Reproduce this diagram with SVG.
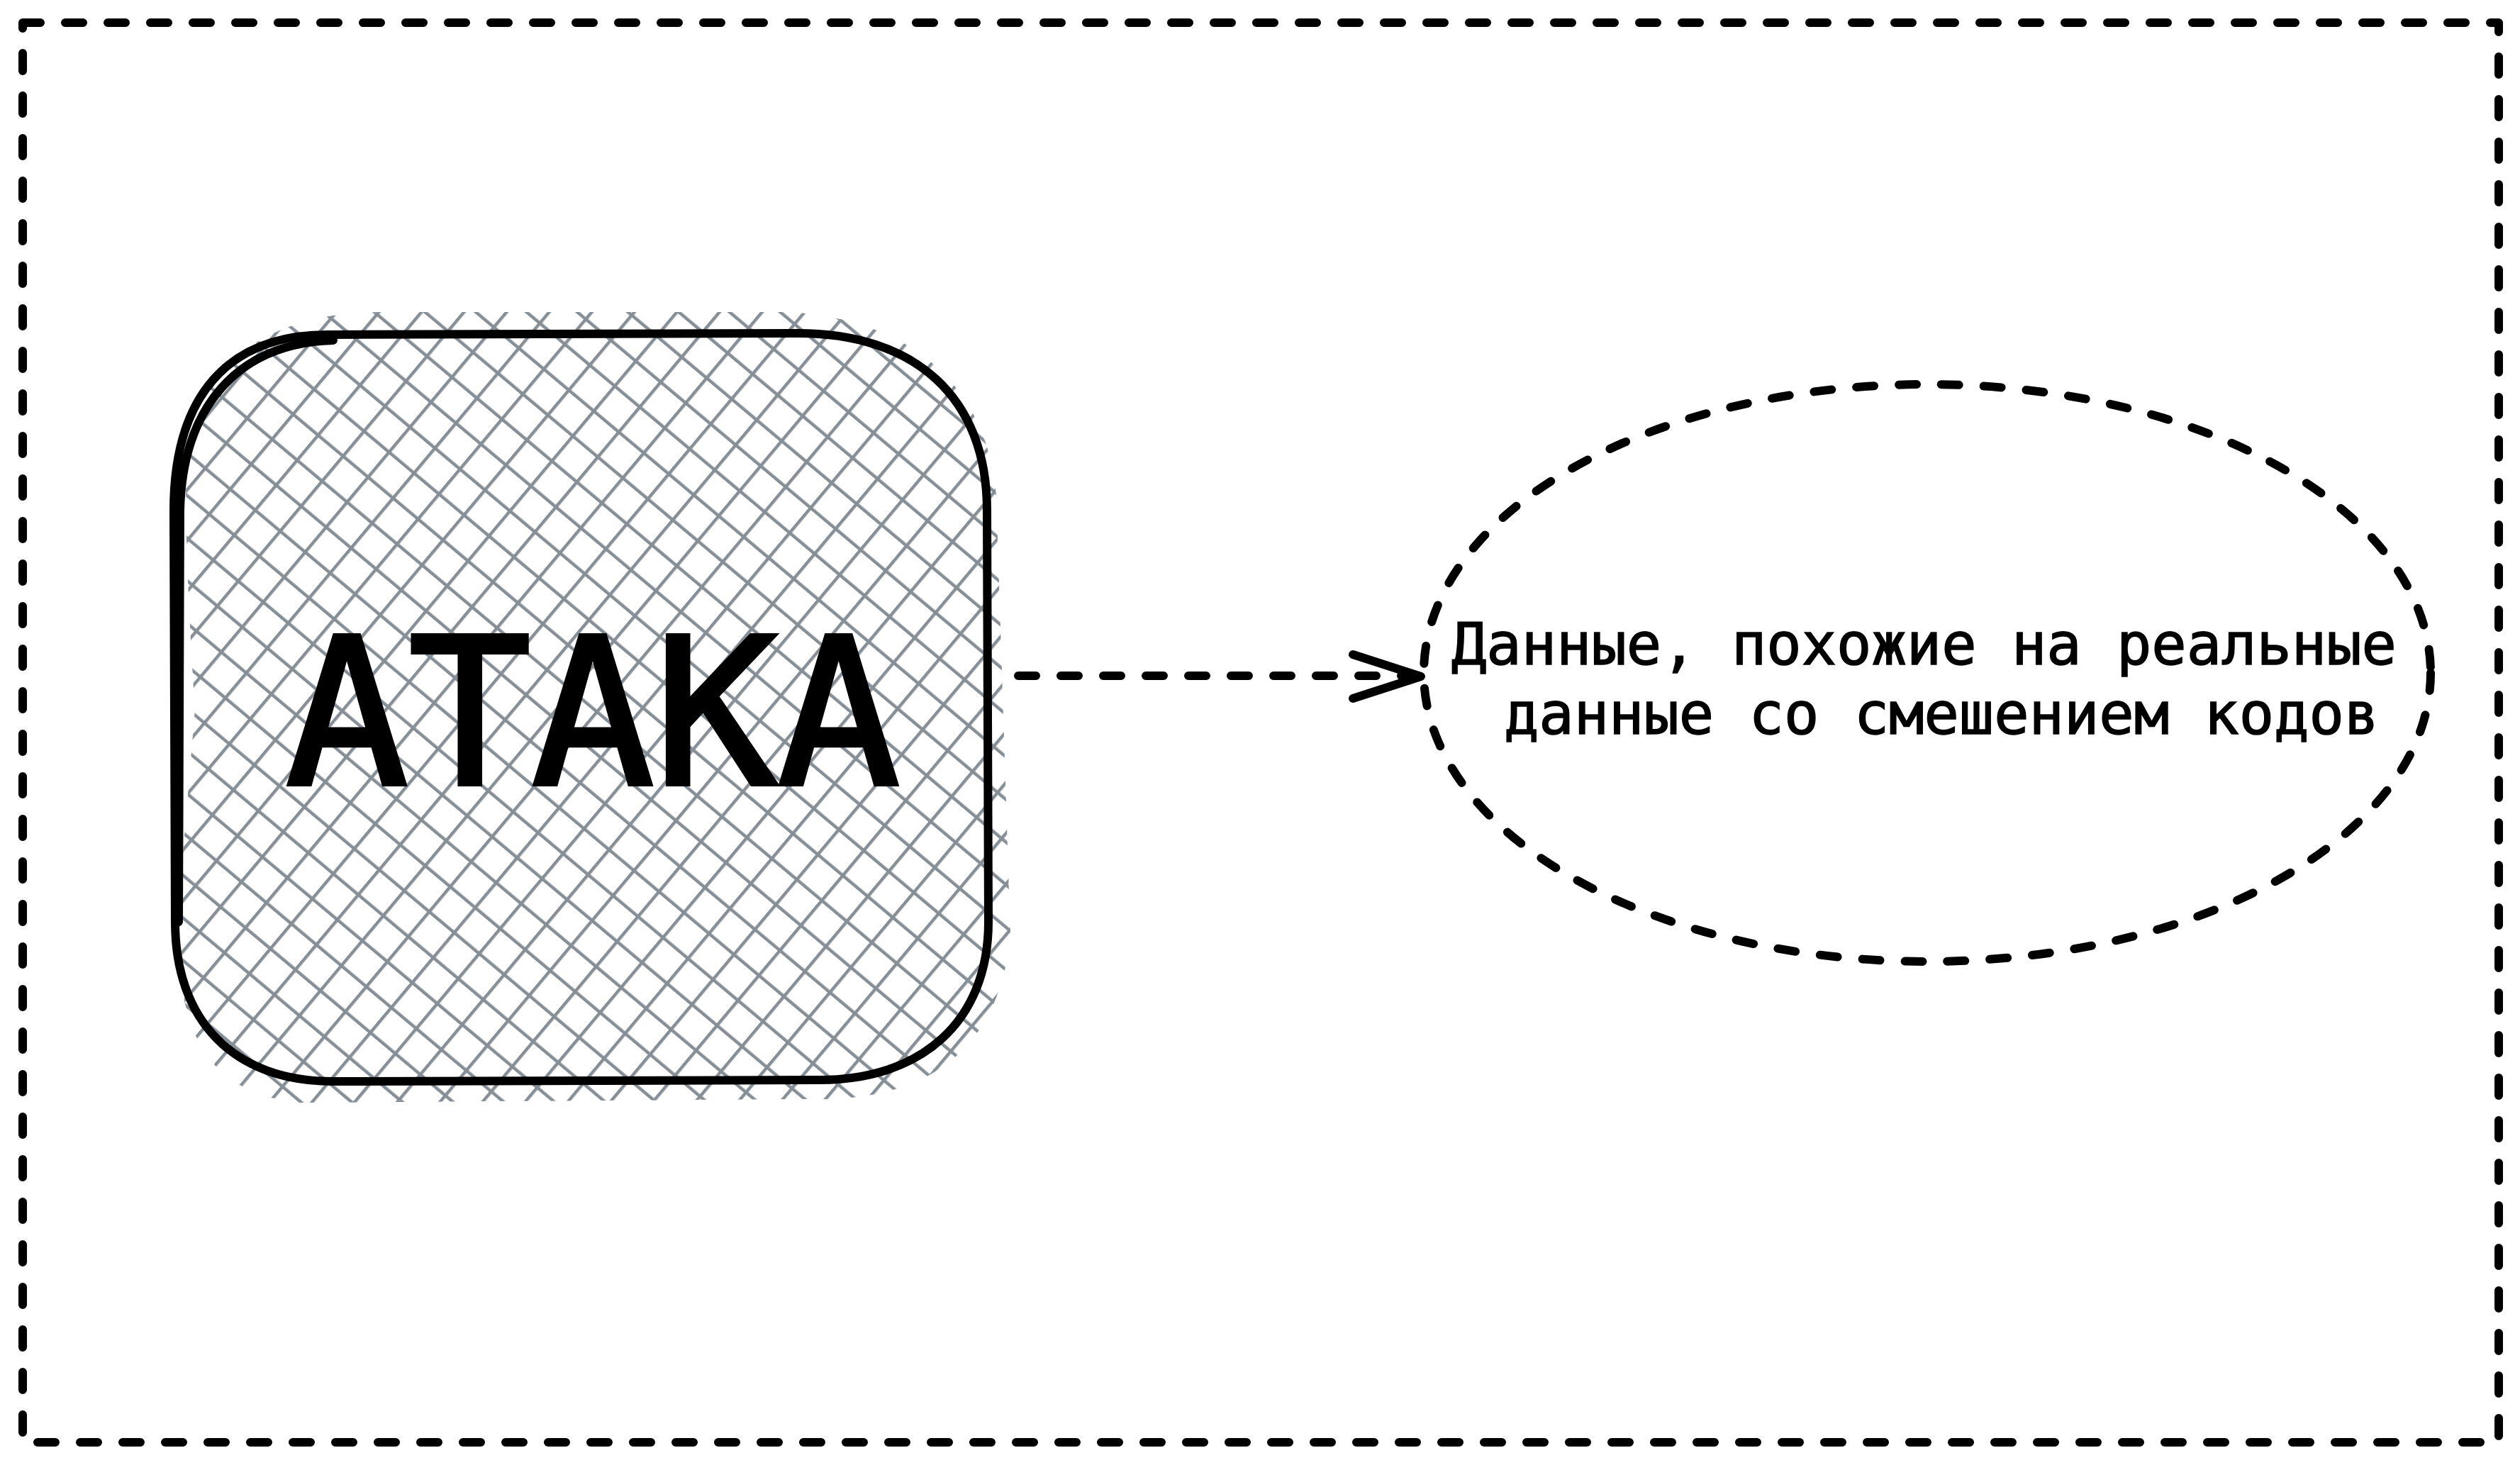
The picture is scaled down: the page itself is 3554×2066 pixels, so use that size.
<svg xmlns="http://www.w3.org/2000/svg" width="3554" height="2066" viewBox="0 0 3554 2066">
<style>
.dash{fill:none;stroke:#000;stroke-width:12;stroke-linecap:round;stroke-linejoin:round;stroke-dasharray:25 35}
.solid{fill:none;stroke:#000;stroke-width:12;stroke-linecap:round;stroke-linejoin:round}
.mono{font-family:"DejaVu Sans Mono","Liberation Mono",monospace;fill:#000;stroke:#000}
</style>
<defs>
<pattern id="h1" width="46" height="46" patternUnits="userSpaceOnUse" patternTransform="rotate(40)">
<line x1="0" y1="0" x2="0" y2="46" stroke="#868e96" stroke-width="9"/>
</pattern>
<pattern id="h2" width="46" height="46" patternUnits="userSpaceOnUse" patternTransform="rotate(-50)">
<line x1="0" y1="0" x2="0" y2="46" stroke="#868e96" stroke-width="9"/>
</pattern>
</defs>
<rect width="3554" height="2066" fill="#fff"/>
<g id="frame">
<rect class="dash" x="32" y="32" width="3492" height="2002"/>
</g>
<g id="attack">
<path d="M275 1000 C275 1000 250 640 270 620 C300 480 420 440 540 440 L1110 440 C1300 450 1395 560 1405 700 L1425 1320 C1410 1470 1320 1555 1140 1550 L420 1555 C300 1540 250 1470 250 1300 Z" fill="url(#h1)"/>
<path d="M275 1000 C275 1000 250 640 270 620 C300 480 420 440 540 440 L1110 440 C1300 450 1395 560 1405 700 L1425 1320 C1410 1470 1320 1555 1140 1550 L420 1555 C300 1540 250 1470 250 1300 Z" fill="url(#h2)"/>
<path class="solid" d="M462 472 L1120 470 C1290 468 1392 560 1392 720 L1394 1300 C1394 1440 1300 1525 1150 1523 L470 1525 C330 1525 247 1440 247 1300 L245 720 C245 560 320 472 462 472 Z"/>
<path class="solid" d="M252 1300 L254 720 C257 580 330 484 470 480" stroke-width="5"/>
<text class="mono" x="836" y="1106" font-size="288" text-anchor="middle" stroke-width="6">АТАКА</text>
</g>
<g id="result">
<ellipse class="dash" cx="2718" cy="949" rx="710" ry="407" stroke-dasharray="24 33"/>
<text class="mono" x="2047" y="937" font-size="82" stroke-width="1.5">Данные, похожие на реальные</text>
<text class="mono" x="2121" y="1035" font-size="82" stroke-width="1.5">данные со смешением кодов</text>
</g>
<g id="connectors">
<line class="dash" x1="1436" y1="953" x2="1995" y2="953"/>
<polyline class="solid" points="1908,923 2004,954 1908,985"/>
</g>
</svg>
